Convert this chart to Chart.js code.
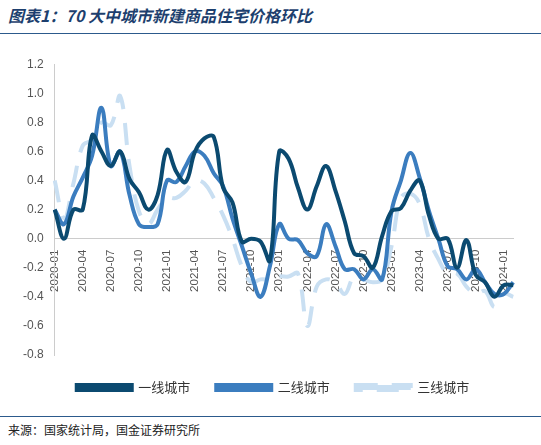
<!DOCTYPE html>
<html><head><meta charset="utf-8">
<script src="https://cdn.jsdelivr.net/npm/chart.js@4"></script>
<style>
body{margin:0;width:541px;height:445px;background:#fff;font-family:"Noto Sans CJK SC",sans-serif;position:relative;overflow:hidden}
#title{position:absolute;left:8px;top:3px;font-size:16px;font-weight:bold;font-style:italic;color:#1d3f6e}
#tl{position:absolute;left:0;right:0;top:33px;border-top:1.5px solid #2c5a8c}
#bl{position:absolute;left:0;right:0;top:416px;border-top:1.5px solid #2c5a8c}
#src{position:absolute;left:8px;top:421px;font-size:12px;color:#222}
#wrap{position:absolute;left:20px;top:54px;width:510px;height:350px}
</style></head><body>
<div id="title">图表1：70 大中城市新建商品住宅价格环比</div>
<div id="tl"></div>
<div id="wrap"><canvas id="c"></canvas></div>
<div id="bl"></div>
<div id="src">来源：国家统计局，国金证券研究所</div>
<script>
const labels = [];
for (let y = 2020; y <= 2024; y++) for (let m = 1; m <= 12; m++) if (labels.length < 50) labels.push(y + '-' + String(m).padStart(2, '0'));
const tier1 = [0.2,0.0,0.2,0.2,0.71,0.6,0.5,0.6,0.41,0.32,0.2,0.3,0.61,0.46,0.39,0.6,0.69,0.7,0.35,0.25,-0.02,0.0,-0.02,-0.15,0.6,0.55,0.35,0.2,0.36,0.5,0.33,0.12,-0.1,-0.12,-0.2,0.02,0.19,0.21,0.33,0.4,0.16,0.0,0.0,-0.2,-0.01,-0.25,-0.3,-0.4,-0.32,-0.32];
const tier2 = [0.2,0.1,0.29,0.42,0.57,0.9,0.5,0.6,0.3,0.1,0.08,0.1,0.4,0.39,0.5,0.6,0.57,0.45,0.36,0.14,-0.05,-0.24,-0.4,-0.19,0.1,0.0,-0.01,-0.1,-0.12,0.1,-0.05,-0.21,-0.21,-0.28,-0.21,-0.28,0.19,0.4,0.59,0.42,0.19,0.0,-0.19,-0.21,-0.28,-0.21,-0.3,-0.38,-0.38,-0.3];
const tier3 = [0.4,0.14,0.38,0.64,0.68,0.8,0.78,0.98,0.5,0.19,0.1,0.2,0.28,0.28,0.33,0.4,0.38,0.28,0.16,0.0,-0.19,-0.3,-0.28,-0.28,-0.26,-0.26,-0.24,-0.6,-0.33,-0.28,-0.3,-0.38,-0.26,-0.28,-0.3,-0.28,-0.05,0.28,0.31,0.24,0.0,-0.14,-0.24,-0.24,-0.33,-0.38,-0.36,-0.47,-0.38,-0.4];

const ds = (label, data, color, dash) => ({ label, data, borderColor: color, backgroundColor: color, borderWidth: 4, pointRadius: 0, tension: 0.4, borderDash: dash, fill: false });

new Chart(document.getElementById('c'), {
  type: 'line',
  data: {
    labels,
    datasets: [
      ds('一线城市', tier1, '#0b4a70', []),
      ds('二线城市', tier2, '#3b7dbf', []),
      ds('三线城市', tier3, '#c9dff2', [22, 14])
    ]
  },
  options: {
    responsive: true,
    maintainAspectRatio: false,
    animation: false,
    layout: { padding: { right: 4, top: 4 } },
    plugins: {
      legend: { position: 'bottom', labels: { boxWidth: 55, boxHeight: 5, padding: 26, color: '#333', font: { size: 13, family: 'Noto Sans CJK SC' } } },
      tooltip: { enabled: false }
    },
    scales: {
      x: {
        position: { y: 0 },
        grid: { display: false },
        border: { color: '#ccc' },
        ticks: {
          color: '#555', font: { size: 11.5, family: 'Liberation Sans' }, maxRotation: 90, minRotation: 90, autoSkip: false,
          callback: (v, i) => i % 3 === 0 ? labels[i] : ''
        }
      },
      y: {
        min: -0.8, max: 1.2,
        grid: { display: false },
        border: { color: '#ccc' },
        ticks: { stepSize: 0.2, color: '#555', font: { size: 12, family: 'Liberation Sans' }, callback: (v) => v.toFixed(1) }
      }
    }
  }
});
</script>
</body></html>
